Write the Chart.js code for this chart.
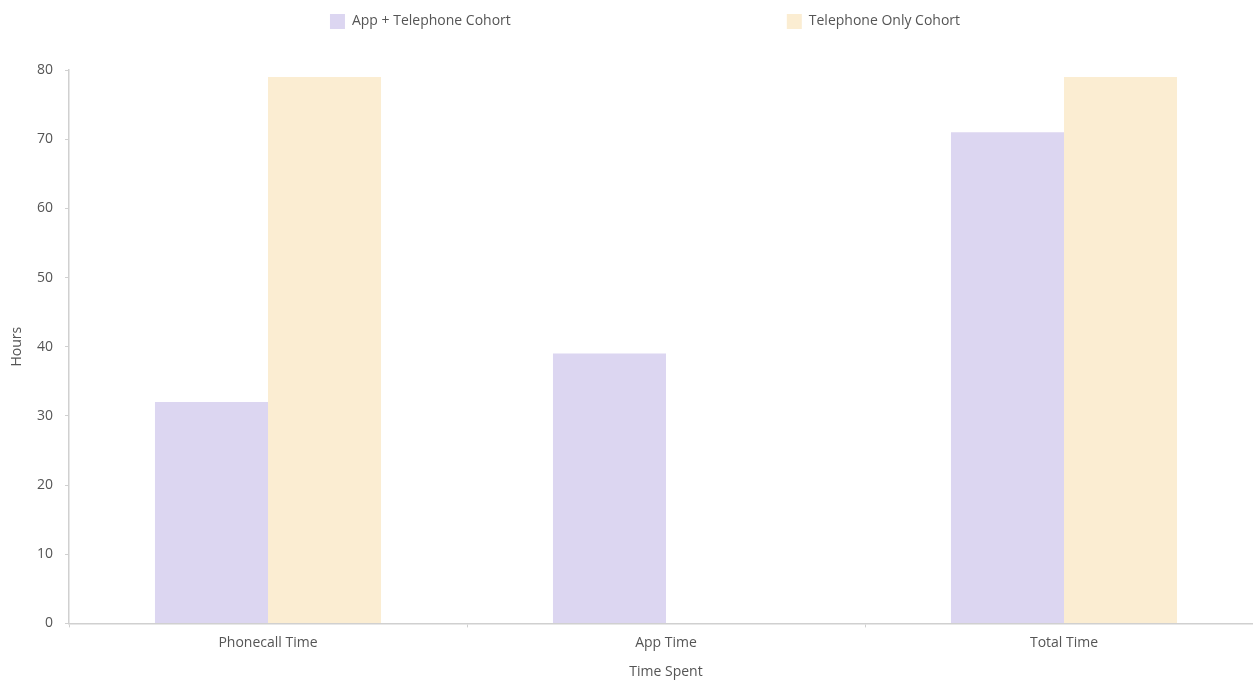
<!DOCTYPE html>
<html>
<head>
<meta charset="utf-8">
<script src="https://cdn.jsdelivr.net/npm/chart.js@4"></script>
<style>
  html, body { margin: 0; padding: 0; background: #fff; overflow: hidden; }
  /* the plot runs a little past the right edge of the window, as in the reference */
  #wrap { position: absolute; left: 0; top: 0; width: 1263px; height: 680px; }
</style>
</head>
<body>
<div id="wrap"><canvas id="chart"></canvas></div>
<script>
// data
const categories = ['Phonecall Time', 'App Time', 'Total Time'];
const seriesNames = ['App + Telephone Cohort', 'Telephone Only Cohort'];
const appTelephoneHours = [32, 39, 71];
const telephoneOnlyHours = [79, 0, 79];
const seriesColors = ['#dcd6f1', '#fbedd2'];
const yMin = 0;
const yMax = 80;
const yStep = 10;

const textColor = '#555';
const axisColor = '#d0d0d0';

Chart.defaults.font.family = "'Open Sans', sans-serif";
Chart.defaults.font.size = 14;
Chart.defaults.color = textColor;

// the legend items sit far apart; widen the first one with spacing
const legendLabels = (chart) => {
  const items = Chart.defaults.plugins.legend.labels.generateLabels(chart);
  items[0].text = items[0].text + '\u2003'.repeat(19);
  return items;
};

new Chart(document.getElementById('chart'), {
  type: 'bar',
  data: {
    labels: categories,
    datasets: [
      { label: seriesNames[0], data: appTelephoneHours, backgroundColor: seriesColors[0], borderWidth: 0 },
      { label: seriesNames[1], data: telephoneOnlyHours, backgroundColor: seriesColors[1], borderWidth: 0 }
    ]
  },
  options: {
    responsive: true,
    maintainAspectRatio: false,
    animation: false,
    categoryPercentage: 0.568,
    barPercentage: 1,
    layout: { padding: { top: 4, left: 27, right: 0, bottom: 0 } },
    plugins: {
      legend: {
        position: 'top',
        labels: {
          boxWidth: 15, boxHeight: 15, padding: 10,
          color: textColor, font: { size: 14 },
          generateLabels: legendLabels
        }
      },
      // empty spacer between legend and plot
      subtitle: { display: true, text: '', weight: 500, font: { size: 13 }, padding: { top: 0, bottom: 15.4 } },
      tooltip: { enabled: false }
    },
    scales: {
      x: {
        grid: { display: true, offset: true, drawOnChartArea: false, drawTicks: true, tickLength: 4, color: axisColor },
        border: { display: true, color: axisColor, width: 1.5 },
        ticks: { padding: 7.6, color: textColor, font: { size: 14 } },
        title: { display: true, text: 'Time Spent', color: textColor, font: { size: 14 }, padding: { top: 3.8, bottom: 0 } }
      },
      y: {
        min: yMin, max: yMax,
        grid: { display: true, drawOnChartArea: false, drawTicks: true, tickLength: 4, color: axisColor },
        border: { display: true, color: axisColor, width: 1.5 },
        ticks: { stepSize: yStep, padding: 12, color: textColor, font: { size: 14 } },
        title: { display: true, text: 'Hours', color: textColor, font: { size: 14 }, padding: { top: -18.4, bottom: 0 } },
        afterFit: (scale) => { scale.width = 42; }
      }
    }
  }
});
</script>
</body>
</html>
